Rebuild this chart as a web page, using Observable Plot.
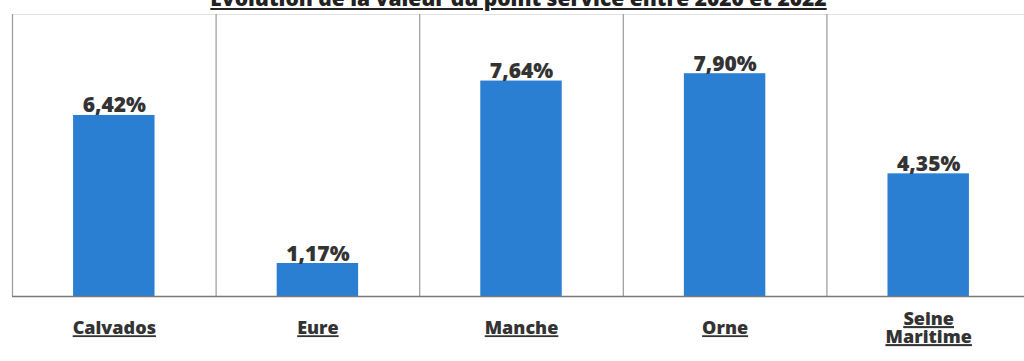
<!DOCTYPE html>
<html>
<head>
<meta charset="utf-8">
<script src="https://cdn.jsdelivr.net/npm/d3@7"></script>
<script src="https://cdn.jsdelivr.net/npm/@observablehq/plot@0.6"></script>
<style>
  html, body { margin: 0; padding: 0; background: #fff; overflow: hidden; }
  #wrap { position: relative; width: 1024px; height: 361px; }
  #title { position: absolute; top: -16px; left: 0; width: 1037px; text-align: center;
    font: 800 21px "Open Sans", sans-serif; color: #222; text-decoration: underline; z-index: 2; white-space: nowrap; }
  #chart { position: absolute; top: 0; left: 0; }
</style>
</head>
<body>
<div id="wrap">
  <div id="title">Evolution de la valeur du point service entre 2020 et 2022</div>
  <div id="chart"></div>
</div>
<script>
const categories = ["Calvados", "Eure", "Manche", "Orne", "Seine\nMaritime"];
const values = [6.42, 1.17, 7.64, 7.90, 4.35];

const data = categories.map((c, i) => ({cat: c, i, value: values[i]}));
const fmt = v => v.toFixed(2).replace(".", ",") + "%";
const boundaries = d3.range(categories.length + 1);

const chart = Plot.plot({
  width: 1024,
  height: 361,
  marginTop: 14,
  marginBottom: 65,
  marginLeft: 12,
  marginRight: 0,
  x: {type: "linear", domain: [0, categories.length], range: [12, 1030], axis: null},
  y: {domain: [0, 10], axis: null},
  style: {fontFamily: "'Open Sans', sans-serif", overflow: "visible"},
  marks: [
    Plot.ruleY([10], {stroke: "#e2e2e2", strokeWidth: 1}),
    Plot.ruleX(boundaries, {x: d => d, y1: 0, y2: 10, stroke: "#9a9a9a", strokeWidth: 1.2}),
    Plot.rectY(data, {x1: d => d.i + 0.3, x2: d => d.i + 0.7, y: "value", fill: "#2b7fd2"}),
    Plot.ruleY([0], {stroke: "#7a7a7a", strokeWidth: 1.5}),
    Plot.text(data, {x: d => d.i + 0.5, y: "value", text: d => fmt(d.value), lineAnchor: "bottom", dy: -3,
      fontSize: 21, fontWeight: 800, fill: "#333"}),
    Plot.text(data, {x: d => d.i + 0.5, y: 0, text: "cat", lineAnchor: "middle", dy: 32,
      fontSize: 18, fontWeight: 800, fill: "#333", lineHeight: 1.0, className: "catlabel"})
  ]
});
document.getElementById("chart").appendChild(chart);
d3.select(chart).selectAll(".catlabel text, .catlabel tspan").attr("text-decoration", "underline");
</script>
</body>
</html>
